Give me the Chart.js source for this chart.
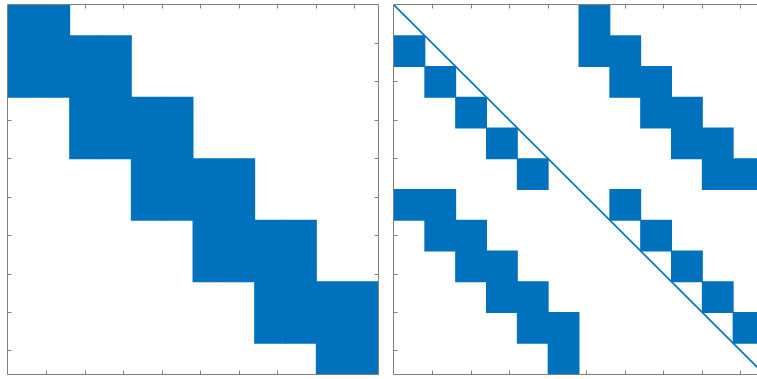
<!DOCTYPE html>
<html>
<head>
<meta charset="utf-8">
<script src="https://cdn.jsdelivr.net/npm/chart.js@4.4.1/dist/chart.umd.min.js"></script>
<style>
  html, body { margin: 0; padding: 0; background: #ffffff; overflow: hidden; width: 757px; height: 379px; }
  #wrap { position: relative; width: 757px; height: 379px; overflow: hidden; }
  canvas { position: absolute; top: 0; }
</style>
</head>
<body>
<div id="wrap">
  <canvas id="left" width="386" height="379" style="left:0px"></canvas>
  <canvas id="right" width="386" height="379" style="left:386px"></canvas>
</div>
<script>
// ---- data ----
// Sparsity pattern of the left matrix: 12 block-rows x 12 block-columns ('1' = filled)
const leftRows = [
  "110000000000",
  "111100000000",
  "111100000000",
  "001111000000",
  "001111000000",
  "000011110000",
  "000011110000",
  "000000111100",
  "000000111100",
  "000000001111",
  "000000001111",
  "000000000011"
];
// Sparsity pattern of the right matrix
const rightRows = [
  "000000100000",
  "100000110000",
  "010000011000",
  "001000001100",
  "000100000110",
  "000010000011",
  "110000010000",
  "011000001000",
  "001100000100",
  "000110000010",
  "000011000001",
  "000001000000"
];
const cellSize = 8;          // matrix units per block
const axisMin = 0;
const axisMax = 96;
const tickValues = [10, 20, 30, 40, 50, 60, 70, 80, 90];
const diagonalX = [0, 96];   // the y = x reference line on the right panel
const diagonalY = [0, 96];

// ---- helpers ----
const BLUE = '#0072BD';
const AXIS = '#808080';

function columnRuns(rows) {
  const bars = [];
  const nCols = rows[0].length;
  for (let c = 0; c < nCols; c++) {
    let r = 0;
    while (r < rows.length) {
      if (rows[r][c] === '1') {
        const start = r;
        while (r < rows.length && rows[r][c] === '1') r++;
        bars.push({ x: (c + 0.5) * cellSize, y: [start * cellSize, r * cellSize] });
      } else {
        r++;
      }
    }
  }
  return bars;
}

const boxPlugin = {
  id: 'boxTicks',
  beforeDatasetsDraw(chart) {
    const ctx = chart.ctx;
    const a = chart.chartArea;
    const xs = chart.scales.x, ys = chart.scales.y;
    const L = a.left - 0.5, R = a.right + 0.5, T = a.top - 0.5, B = a.bottom + 0.5;
    const tl = 4;
    ctx.save();
    ctx.strokeStyle = AXIS;
    ctx.lineWidth = 1;
    ctx.beginPath();
    tickValues.forEach(v => {
      const px = Math.floor(xs.getPixelForValue(v)) + 0.5;
      ctx.moveTo(px, B); ctx.lineTo(px, B - tl);
      ctx.moveTo(px, T); ctx.lineTo(px, T + tl);
      const py = Math.floor(ys.getPixelForValue(v)) + 0.5;
      ctx.moveTo(L, py); ctx.lineTo(L + tl, py);
      ctx.moveTo(R, py); ctx.lineTo(R - tl, py);
    });
    ctx.stroke();
    ctx.beginPath();
    ctx.rect(L, T, R - L, B - T);
    ctx.stroke();
    ctx.restore();
  }
};

function makeChart(id, rows, withDiagonal) {
  const datasets = [];
  if (withDiagonal) {
    datasets.push({
      type: 'line',
      data: diagonalX.map((x, i) => ({ x: x, y: diagonalY[i] })),
      borderColor: BLUE,
      borderWidth: 1.6,
      pointRadius: 0,
      fill: false,
      order: 0
    });
  }
  datasets.push({
    type: 'bar',
    data: columnRuns(rows),
    backgroundColor: BLUE,
    borderWidth: 0,
    barPercentage: 1,
    categoryPercentage: 1,
    grouped: false,
    inflateAmount: 0.5,
    order: 1
  });
  return new Chart(document.getElementById(id), {
    type: 'bar',
    data: { datasets },
    options: {
      responsive: false,
      animation: false,
      devicePixelRatio: 1,
      layout: { padding: { left: 8, right: 8, top: 5, bottom: 5 } },
      plugins: { legend: { display: false }, tooltip: { enabled: false } },
      scales: {
        x: { type: 'linear', min: axisMin, max: axisMax, offset: false, display: false },
        y: { type: 'linear', min: axisMin, max: axisMax, reverse: true, display: false }
      }
    },
    plugins: [boxPlugin]
  });
}

makeChart('left', leftRows, false);
makeChart('right', rightRows, true);
</script>
</body>
</html>
